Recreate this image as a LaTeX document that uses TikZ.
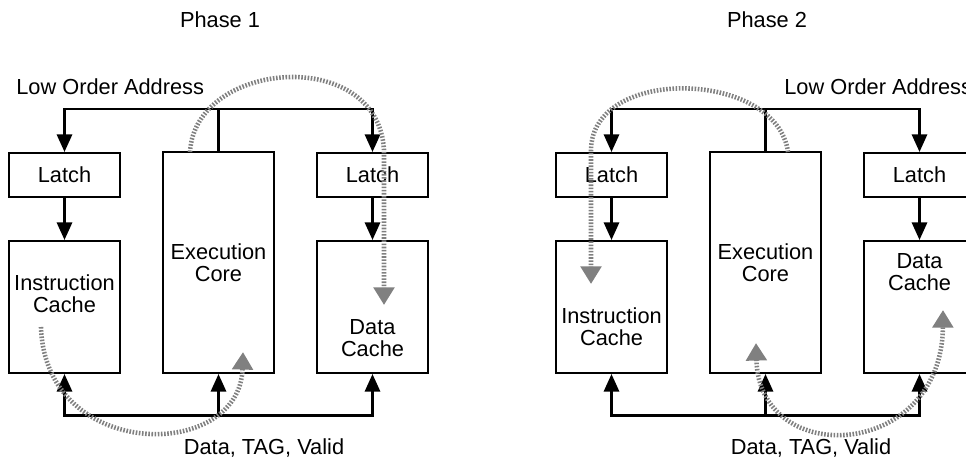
\documentclass[tikz,border=0pt]{standalone}
\usepackage{fontspec}
\setmainfont{Liberation Sans}
\usetikzlibrary{arrows.meta}
\usetikzlibrary{calc}
\tikzstyle{box}=[draw, line width=1.1pt, minimum width=2.22cm, inner sep=0pt, align=center]
\tikzstyle{latchbox}=[box, minimum height=0.88cm]
\tikzstyle{cachebox}=[box, minimum height=2.64cm]
\tikzstyle{corebox}=[box, minimum height=4.42cm]
\tikzstyle{boxtext}=[align=center, inner sep=0pt]
\tikzstyle{bus}=[line width=1.7pt]
\tikzstyle{flow}=[draw=black!50, line width=2.6pt, dash pattern=on 0.9pt off 0.9pt]
\tikzset{flowtip/.tip={Triangle[width=11.5pt,length=10pt]}}
\newcommand{\phaseframe}[4]{
	\node[latchbox] (latchI#1) at (#2+64.5,175) {Latch};
	\node[cachebox] (icache#1) at (#2+64.5,307) {};
	\node[corebox] (core#1) at (#2+218.5,262.5) {Execution\\Core};
	\node[latchbox] (latchD#1) at (#2+372.5,175) {Latch};
	\node[cachebox] (dcache#1) at (#2+372.5,307) {};
	\coordinate (topL#1) at (#2+64.5,109);
	\coordinate (topR#1) at (#2+372.5,109);
	\coordinate (botL#1) at (#2+64.5,415);
	\coordinate (botR#1) at (#2+372.5,415);
	\draw[bus, <->] (latchI#1.north) -- (topL#1) -- (topR#1) -- (latchD#1.north);
	\draw[bus] (core#1.north) -- (core#1.north |- topL#1);
	\draw[bus, ->] (latchI#1.south) -- (icache#1.north);
	\draw[bus, ->] (latchD#1.south) -- (dcache#1.north);
	\draw[bus, <->] (icache#1.south) -- (botL#1) -- (botR#1) -- (dcache#1.south);
	\draw[bus, ->] (core#1.south |- botL#1) -- (core#1.south);
	\node[boxtext] (title#1) at (#2+220,20) {Phase #4};
	\node[boxtext, anchor=west] (addr#1) at (#2+#3,87) {Low Order Address};
	\node[boxtext] (data#1) at (#2+264,448) {Data, TAG, Valid};
}

\begin{document}
\begin{tikzpicture}[x=0.02cm, y=-0.02cm, font=\fontsize{12.4}{12.6}\selectfont,
	>={Triangle[width=8.5pt,length=10pt]}]
	\useasboundingbox (0,0) rectangle (966,460);
	\clip (0,0) rectangle (966,460);
%
	\phaseframe{a}{0}{16}{1}
	\phaseframe{b}{547}{237}{2}
%
	\node[boxtext] (icacheTa) at (64.5,294) {Instruction\\Cache};
	\node[boxtext] (dcacheTa) at (372.5,338) {Data\\Cache};
	\node[boxtext] (icacheTb) at (611.5,327) {Instruction\\Cache};
	\node[boxtext] (dcacheTb) at (919.5,272) {Data\\Cache};
%
	\coordinate (outCa) at (190,152);
	\coordinate (inDa) at (384,305);
	\coordinate (outIa) at (41,327);
	\coordinate (inCa) at (243,352);
	\draw[flow, -flowtip] (outCa) .. controls (195,60) and (378,45) .. (384,150) -- (inDa);
	\draw[flow, -flowtip] (outIa) .. controls (45,462) and (240,462) .. (inCa);
%
	\coordinate (outCb) at (788,152);
	\coordinate (inIb) at (591,284);
	\coordinate (inCb) at (756,343);
	\coordinate (inDb) at (943,310);
	\draw[flow, -flowtip] (outCb) .. controls (777,70) and (592,65) .. (591,150) -- (inIb);
	\draw[flow, flowtip-flowtip] (inCb) .. controls (759,470) and (942,460) .. (inDb);
\end{tikzpicture}
\end{document}
